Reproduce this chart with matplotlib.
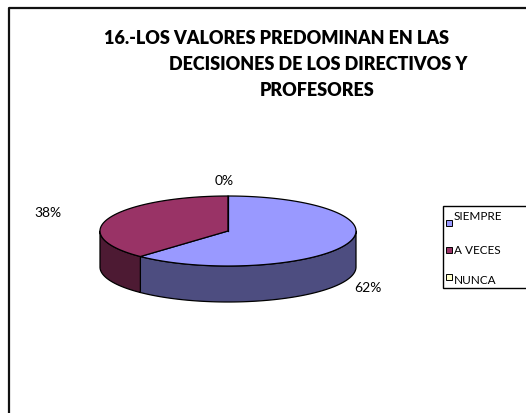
import numpy as np
import matplotlib
matplotlib.use("Agg")
import matplotlib.pyplot as plt
from matplotlib.patches import Polygon, Rectangle

# data
categories = ["SIEMPRE", "A VECES", "NUNCA"]
values = [62, 38, 0]
pct_labels = ["62%", "38%", "0%"]
title_lines = ["16.-LOS VALORES PREDOMINAN EN LAS",
               "DECISIONES DE LOS DIRECTIVOS Y",
               "PROFESORES"]

top_colors = ["#9999FF", "#993366", "#FFFFCC"]
side_colors = ["#4D4D80", "#4D1A33", "#80806A"]

# pie geometry in pixel coords (y down)
CX, CY, A, B, DEPTH = 228, 232, 128, 35, 36

plt.rcParams["font.family"] = ["Lato", "DejaVu Sans"]
fig = plt.figure(figsize=(5.26, 4.14), dpi=100)
ax = fig.add_axes([0, 0, 1, 1])
ax.set_xlim(0, 526); ax.set_ylim(414, 0); ax.axis("off")

# chart frame (only left/top visible)
ax.plot([9, 9, 526], [414, 9, 9], color="#111111", lw=1.6, solid_capstyle="butt")

def ell(t, dz=0.0):
    t = np.deg2rad(t)
    return np.column_stack([CX + A*np.cos(t), CY - B*np.sin(t) + dz])

total = float(sum(values))
start = 90.0
slices = []
for v in values:
    span = 360.0 * v / total
    slices.append((start - span, start))   # clockwise
    start -= span

# sides (front half: angles between 180 and 360)
for (t0, t1), sc, v in zip(slices, side_colors, values):
    if v == 0:
        continue
    a0 = t0 % 360
    a1 = a0 + (t1 - t0)
    segs = []
    for off in (0, 360):
        lo, hi = max(a0 - off, 180), min(a1 - off, 360)
        if lo < hi:
            segs.append((lo, hi))
    for s0, s1 in segs:
        tt = np.linspace(s0, s1, 120)
        pts = np.vstack([ell(tt), ell(tt[::-1], DEPTH)])
        ax.add_patch(Polygon(pts, closed=True, fc=sc, ec="black", lw=0.9, joinstyle="round"))

# tops
for (t0, t1), tc, v in zip(slices, top_colors, values):
    if v == 0:
        ax.plot([CX, CX], [CY, CY - B], color="black", lw=0.9)
        continue
    tt = np.linspace(t0, t1, 200)
    pts = np.vstack([[CX, CY], ell(tt)])
    ax.add_patch(Polygon(pts, closed=True, fc=tc, ec="black", lw=0.9, joinstyle="round"))

# percentage labels
lab_pos = [(368, 288), (48, 213), (224, 181)]
for (x, y), t in zip(lab_pos, pct_labels):
    ax.text(x, y, t, ha="center", va="center", fontsize=10)

# title
tpos = [(276, 38), (318, 64), (317, 90)]
for (x, y), t in zip(tpos, title_lines):
    ax.text(x, y, t, ha="center", va="center", fontsize=13, fontweight="heavy")

# legend
ax.add_patch(Rectangle((443, 207), 90, 82, fc="white", ec="black", lw=1.0))
mark_y = [223.5, 250.5, 278]
text_y = [216.5, 250.5, 281]
for my, ty, c, name in zip(mark_y, text_y, top_colors, categories):
    ax.add_patch(Rectangle((446, my - 3), 6, 6, fc=c, ec="black", lw=0.7))
    ax.text(454, ty, name, ha="left", va="center", fontsize=8.5)

fig.savefig("out.png", dpi=100)
